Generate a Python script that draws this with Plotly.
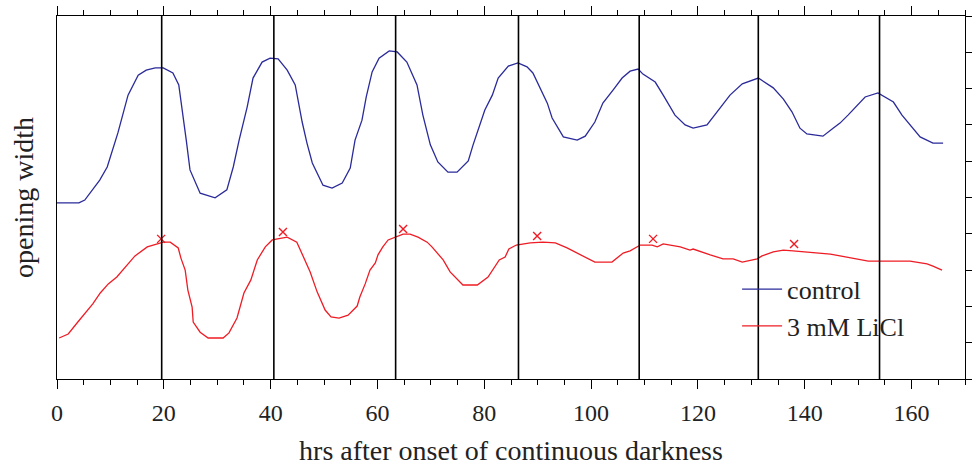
import plotly.graph_objects as go

# ---- data ----
ctrl_x = [0, 4.1, 5.2, 8.0, 9.4, 11.4, 13.3, 15.2, 16.7, 18.4, 19.9, 21.7, 22.8, 23.4, 24.2, 24.9,
          26.8, 29.6, 31.8, 33.0, 34.1, 35.6, 36.7, 38.4, 39.9, 41.4, 43.1, 44.6, 45.9, 46.8, 47.8,
          49.8, 51.5, 53.4, 54.9, 55.8, 57.1, 57.9, 59.0, 60.3, 62.2, 63.7, 65.5, 67.4, 68.5, 69.9,
          71.3, 73.2, 74.9, 77.0, 77.9, 80.1, 81.5, 82.6, 84.5, 86.3, 88.0, 89.1, 90.4, 91.8, 92.7,
          94.8, 97.4, 98.9, 100.7, 102.2, 104.1, 105.8, 107.3, 108.8, 109.7, 112.0, 113.5, 115.7,
          117.6, 119.1, 121.7, 123.8, 126.0, 128.3, 129.8, 131.3, 134.1, 136.0, 137.6, 139.1, 140.4,
          143.4, 145.3, 146.6, 148.1, 151.3, 153.7, 156.6, 158.2, 161.6, 164.0, 165.9]
ctrl_y = [4.85, 4.85, 4.93, 5.48, 5.84, 6.78, 7.82, 8.37, 8.51, 8.57, 8.57, 8.43, 8.10, 7.49, 6.58, 5.76,
          5.12, 4.99, 5.21, 5.84, 6.58, 7.49, 8.29, 8.73, 8.84, 8.82, 8.51, 8.10, 7.08, 6.50, 5.95,
          5.34, 5.26, 5.40, 5.81, 6.58, 7.13, 7.77, 8.46, 8.84, 9.04, 9.01, 8.73, 8.10, 7.27, 6.45,
          5.98, 5.70, 5.70, 6.01, 6.45, 7.41, 7.82, 8.29, 8.62, 8.71, 8.60, 8.43, 8.02, 7.60, 7.19,
          6.67, 6.58, 6.69, 7.08, 7.60, 7.96, 8.29, 8.48, 8.54, 8.40, 8.18, 7.82, 7.27,
          7.00, 6.91, 7.00, 7.41, 7.82, 8.13, 8.21, 8.29, 8.02, 7.71, 7.36, 6.91, 6.75,
          6.69, 6.91, 7.05, 7.27, 7.77, 7.88, 7.63, 7.27, 6.67, 6.50, 6.50]

licl_x = [0.4, 2.1, 3.9, 5.6, 6.7, 8.1, 9.6, 11.2, 12.2, 13.3, 14.6, 16.9, 18.7, 19.9, 21.2, 22.7,
          23.2, 24.0, 24.5, 25.3, 25.5, 26.8, 28.3, 31.1, 32.2, 33.7, 35.0, 36.3, 37.5, 39.0, 40.3,
          43.1, 44.9, 46.1, 47.4, 48.7, 50.2, 51.3, 52.8, 54.5, 56.2, 56.7, 57.7, 58.6, 59.6, 60.1,
          61.0, 62.0, 63.3, 64.8, 66.1, 67.6, 69.3, 70.2, 72.3, 73.6, 76.0, 78.7, 80.7, 81.8, 82.8,
          83.9, 84.6, 86.0, 88.6, 91.0, 93.3, 95.5, 100.7, 103.9, 106.0, 107.3, 109.2, 111.4, 112.4,
          113.5, 116.7, 118.5, 119.1, 122.3, 124.7, 126.6, 128.3, 131.1, 132.0, 134.1, 136.0, 137.8,
          139.7, 142.3, 144.8, 146.6, 149.8, 151.9, 159.7, 160.7, 162.9, 164.0, 165.7]
licl_y = [1.13, 1.24, 1.57, 1.87, 2.07, 2.37, 2.62, 2.81, 2.98, 3.14, 3.39, 3.64, 3.72, 3.77, 3.77, 3.61,
          3.33, 3.00, 2.45, 1.98, 1.57, 1.29, 1.13, 1.13, 1.27, 1.68, 2.37, 2.73, 3.28, 3.64, 3.83,
          3.91, 3.77, 3.36, 2.95, 2.40, 1.90, 1.71, 1.68, 1.76, 2.01, 2.26, 2.62, 3.00, 3.20, 3.42,
          3.64, 3.83, 3.91, 3.99, 3.99, 3.91, 3.77, 3.64, 3.28, 2.95, 2.59, 2.59, 2.81, 3.06, 3.28,
          3.36, 3.58, 3.69, 3.75, 3.77, 3.75, 3.61, 3.22, 3.22, 3.47, 3.53, 3.69, 3.69, 3.64,
          3.72, 3.64, 3.55, 3.58, 3.42, 3.31, 3.31, 3.22, 3.31, 3.39, 3.50, 3.55, 3.53,
          3.50, 3.47, 3.44, 3.39, 3.31, 3.25, 3.25, 3.22, 3.17, 3.11, 3.00]

licl_peak_x = [19.5, 42.3, 64.8, 89.9, 111.6, 138.0]
licl_peak_y = [3.86, 4.05, 4.13, 3.94, 3.86, 3.72]

ctrl_peak_lines = [19.6, 40.6, 63.4, 86.4, 109.0, 131.3, 154.0]

x_ticks = [0, 20, 40, 60, 80, 100, 120, 140, 160]

BLUE = "#2a2a9a"
RED = "#ee1c25"
FONT = "'Liberation Serif', 'Times New Roman', Times, 'DejaVu Serif', serif"

fig = go.Figure()
fig.add_trace(go.Scatter(x=ctrl_x, y=ctrl_y, mode="lines", name="control",
                         line=dict(color=BLUE, width=1.3)))
fig.add_trace(go.Scatter(x=licl_x, y=licl_y, mode="lines", name="3 mM LiCl",
                         line=dict(color=RED, width=1.3)))
fig.add_trace(go.Scatter(x=licl_peak_x, y=licl_peak_y, mode="markers", showlegend=False,
                         yaxis="y2",
                         marker=dict(symbol="x-thin", size=8, color=RED,
                                     line=dict(color=RED, width=1.4))))

for xv in ctrl_peak_lines:
    fig.add_shape(type="line", xref="x", yref="paper", x0=xv, x1=xv, y0=0, y1=1,
                  line=dict(color="black", width=1.6), layer="above")

fig.update_layout(
    width=972, height=466,
    margin=dict(l=57, r=7, t=16, b=87, autoexpand=False),
    paper_bgcolor="white", plot_bgcolor="white",
    font=dict(family=FONT, color="#222222", size=24),
    showlegend=True,
    legend=dict(x=0.749, y=0.312, xanchor="left", yanchor="top",
                bgcolor="rgba(0,0,0,0)", font=dict(size=26, family=FONT),
                itemwidth=40),
    xaxis=dict(range=[0, 170], tickvals=x_ticks, ticks="outside", ticklen=9, tickwidth=1.2,
               tickcolor="black", showline=True, linecolor="black", linewidth=1.4,
               mirror="ticks", showgrid=False, zeroline=False, automargin=False,
               tickfont=dict(size=24, family=FONT), ticklabelstandoff=3,
               minor=dict(dtick=5, ticks="outside", ticklen=5, tickwidth=1.2, tickcolor="black",
                          showgrid=False),
               title=dict(text="hrs after onset of continuous darkness",
                          font=dict(size=28, family=FONT), standoff=16)),
    yaxis=dict(range=[0, 10], showticklabels=False, ticks="", showline=True, automargin=False,
               linecolor="black", linewidth=1.4, showgrid=False, zeroline=False,
               title=dict(text="opening width", font=dict(size=28, family=FONT), standoff=14)),
    yaxis2=dict(range=[0, 10], overlaying="y", side="right", dtick=1, ticks="outside",
                ticklen=7, tickwidth=1.2, tickcolor="black", showticklabels=False,
                showline=True, linecolor="black", linewidth=1.4, showgrid=False,
                zeroline=False, automargin=False),
)

fig.write_html("out.html")
